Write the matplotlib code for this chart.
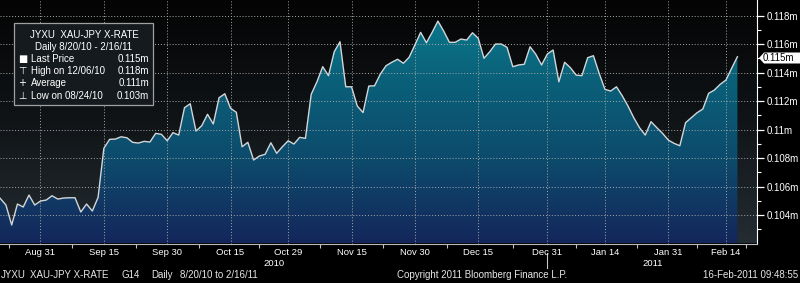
import numpy as np
import pandas as pd
import matplotlib
matplotlib.use("Agg")
import matplotlib.pyplot as plt
from matplotlib.colors import LinearSegmentedColormap
from matplotlib.patches import Polygon, Rectangle
from matplotlib.ticker import FixedLocator, FuncFormatter

plt.rcParams['font.family'] = ['Liberation Sans', 'DejaVu Sans']

# daily XAU-JPY cross rate, 8/20/10 - 2/16/11 (business days)
dates = pd.bdate_range('2010-08-20', '2011-02-16')
prices = [
    0.10517, 0.10470, 0.10330, 0.10477, 0.10456, 0.10540, 0.10470, 0.10498, 0.10505, 0.10535,
    0.10512, 0.10519, 0.10521, 0.10521, 0.10421, 0.10477, 0.10428, 0.10524, 0.10868, 0.10931,
    0.10933, 0.10949, 0.10942, 0.10910, 0.10905, 0.10917, 0.10912, 0.10973, 0.10966, 0.10921,
    0.10978, 0.10961, 0.11153, 0.11181, 0.10989, 0.11027, 0.11107, 0.11039, 0.11223, 0.11251,
    0.11149, 0.11121, 0.10879, 0.10910, 0.10786, 0.10814, 0.10826, 0.10907, 0.10833, 0.10879,
    0.10921, 0.10898, 0.10945, 0.10938, 0.11247, 0.11335, 0.11441, 0.11378, 0.11546, 0.11616,
    0.11300, 0.11300, 0.11165, 0.11119, 0.11305, 0.11307, 0.11389, 0.11448, 0.11472, 0.11493,
    0.11465, 0.11507, 0.11593, 0.11682, 0.11609, 0.11682, 0.11761, 0.11691, 0.11612, 0.11612,
    0.11635, 0.11628, 0.11679, 0.11640, 0.11500, 0.11546, 0.11600, 0.11600, 0.11577, 0.11441,
    0.11453, 0.11458, 0.11581, 0.11528, 0.11453, 0.11530, 0.11558, 0.11335, 0.11472, 0.11434,
    0.11382, 0.11378, 0.11504, 0.11518, 0.11394, 0.11282, 0.11270, 0.11300, 0.11237, 0.11165,
    0.11083, 0.11013, 0.10961, 0.11055, 0.11013, 0.10973, 0.10926, 0.10903, 0.10886, 0.11048,
    0.11083, 0.11118, 0.11144, 0.11254, 0.11277, 0.11317, 0.11347, 0.11430, 0.11511,
]

tick_dates = ['2010-08-31', '2010-09-15', '2010-09-30', '2010-10-15', '2010-10-29', '2010-11-15',
              '2010-11-30', '2010-12-15', '2010-12-31', '2011-01-14', '2011-01-31', '2011-02-14']
tick_labels = ['Aug 31', 'Sep 15', 'Sep 30', 'Oct 15', 'Oct 29', 'Nov 15',
               'Nov 30', 'Dec 15', 'Dec 31', 'Jan 14', 'Jan 31', 'Feb 14']
year_labels = ['2010', '2011']
y_major = [0.104, 0.106, 0.108, 0.110, 0.112, 0.114, 0.116, 0.118]
y_minor = [0.103, 0.105, 0.107, 0.109, 0.111, 0.113, 0.115, 0.117]

W, H = 800, 283
def fx(px):
    return px / W
def fy(py):
    return 1 - py / H

fig = plt.figure(figsize=(8, 2.83), dpi=100, facecolor='black')
ax = fig.add_axes([0, fy(243.5), fx(757), 243.5 / H])
ax.set_facecolor('black')

x = np.arange(len(prices))
ymin, ymax = 0.102, 0.11909
xlim = (-0.03, 131.4)

# background + fill gradients
grad = np.linspace(0, 1, 256).reshape(-1, 1)
bg_cmap = LinearSegmentedColormap.from_list('bg', ['#040404', '#101417', '#242d32'])
fill_cmap = LinearSegmentedColormap.from_list('fill', ['#0a7f90', '#0a6079', '#0d4a6c', '#14265b'])
ax.imshow(grad, extent=[*xlim, ymin, ymax], aspect='auto', cmap=bg_cmap, origin='upper', zorder=0)
fill_im = ax.imshow(grad, extent=[*xlim, ymin, ymax], aspect='auto', cmap=fill_cmap, origin='upper', zorder=1)
verts = np.column_stack([np.r_[x[0], x, x[-1]], np.r_[ymin, prices, ymin]])
area = Polygon(verts, closed=True, facecolor='none', edgecolor='none')
ax.add_patch(area)
fill_im.set_clip_path(area)

ax.plot(x, prices, color='#d2d6d8', lw=1.0, zorder=4)

ax.set_xlim(*xlim)
ax.set_ylim(ymin, ymax)

# x axis
tick_pos = [dates.get_loc(pd.Timestamp(d)) for d in tick_dates]
ax.xaxis.set_major_locator(FixedLocator(tick_pos))
ax.set_xticklabels(tick_labels)
mids = [tick_pos[0] - 5.5] + [(a + b) / 2 for a, b in zip(tick_pos[:-1], tick_pos[1:])] + [tick_pos[-1] + 3.5]
ax.xaxis.set_minor_locator(FixedLocator(mids))
ax.tick_params(axis='x', which='major', length=0, pad=3, colors='white', labelsize=6.8)
ax.tick_params(axis='x', which='minor', length=3, width=0.8, color='#c0c0c0')

# y axis on the right
ax.yaxis.tick_right()
ax.yaxis.set_major_locator(FixedLocator(y_major))
ax.yaxis.set_minor_locator(FixedLocator(y_minor))
ax.yaxis.set_major_formatter(FuncFormatter(lambda v, p: f"{round(v, 3):g}m"))
ax.tick_params(axis='y', which='major', length=5, width=0.9, color='white', colors='white', labelsize=7, pad=2)
ax.tick_params(axis='y', which='minor', length=3, width=0.8, color='white')

for s in ['left', 'top']:
    ax.spines[s].set_visible(False)
ax.spines['right'].set_color('white')
ax.spines['bottom'].set_color('#b8bcc0')

ax.set_axisbelow(False)
ax.grid(True, which='major', color='#a8a8a8', linestyle=(0, (1, 2)), linewidth=0.7)

# year separator and labels
dec31 = dates.get_loc(pd.Timestamp('2010-12-31'))
xt = ax.get_xaxis_transform()
ax.plot([dec31, dec31], [-0.04, -0.10], transform=xt, clip_on=False, color='#c8c8c8', lw=0.8)
for xpos, lab in zip([(xlim[0] + dec31) / 2, (dec31 + xlim[1]) / 2], year_labels):
    ax.text(xpos, (243.5 - 258.5) / 243.5, lab, transform=xt, ha='center', va='top',
            color='white', fontsize=6.8)

# last price marker
fig.add_artist(Polygon([(fx(759), fy(58)), (fx(764), fy(52.5)), (fx(800), fy(52.5)),
                        (fx(800), fy(63.5)), (fx(764), fy(63.5))], closed=True,
                       transform=fig.transFigure, facecolor='white', edgecolor='none', zorder=5))
fig.text(fx(763), fy(58), f"{prices[-1]:.3f}m", color='black', fontsize=7, va='center', zorder=6)

# legend box
fig.add_artist(Rectangle((fx(14), fy(105)), fx(153) - fx(14), (105 - 23) / H, transform=fig.transFigure,
                         facecolor='#151a1e', edgecolor='#a0a0a0', lw=0.9, zorder=5))
tc = dict(color='white', fontsize=7, va='center', zorder=6)
fig.text(fx(84), fy(34.5), 'JYXU  XAU-JPY X-RATE', ha='center', **tc)
fig.text(fx(84), fy(46.5), 'Daily 8/20/10 - 2/16/11', ha='center', **tc)
rows = [('■', 'Last Price', '0.115m'),
        ('⊤', 'High on 12/06/10', '0.118m'),
        ('+', 'Average', '0.111m'),
        ('⊥', 'Low on 08/24/10', '0.103m')]
for k, (sym, name, val) in enumerate(rows):
    yy = fy(59 + k * 12.2)
    fig.text(fx(18), yy, sym, ha='left', family=['DejaVu Sans'], **tc)
    fig.text(fx(31), yy, name, ha='left', **tc)
    fig.text(fx(149), yy, val, ha='right', **tc)

# footer
fc = dict(color='#e6e6e6', fontsize=7, va='center')
fig.text(fx(1), fy(275), 'JYXU', **fc)
fig.text(fx(30), fy(275), 'XAU-JPY X-RATE', **fc)
fig.text(fx(122), fy(275), 'G14', **fc)
fig.text(fx(151), fy(275), 'Daily', **fc)
fig.text(fx(180), fy(275), '8/20/10 to 2/16/11', **fc)
fig.text(fx(397), fy(275), 'Copyright 2011 Bloomberg Finance L.P.', **fc)
fig.text(fx(798), fy(275), '16-Feb-2011 09:48:55', ha='right', **fc)

fig.savefig('out.png', dpi=100, facecolor='black')
